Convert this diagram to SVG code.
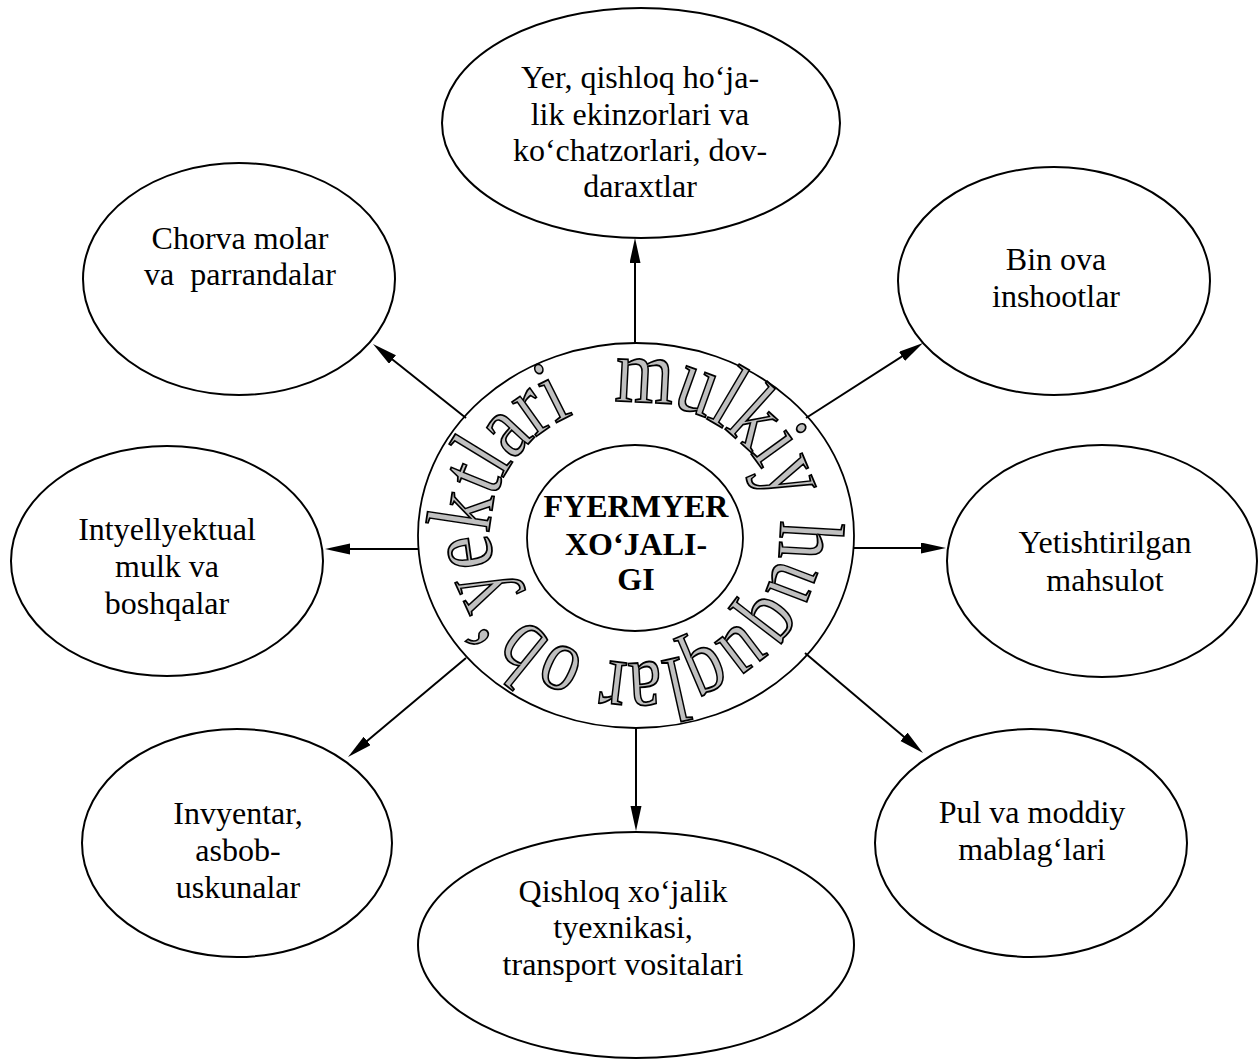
<svg xmlns="http://www.w3.org/2000/svg" width="1258" height="1059" viewBox="0 0 1258 1059">
<style>
.node ellipse{fill:#fff;stroke:#000;stroke-width:2}
.lbl{font-family:"Liberation Serif","Times New Roman",serif;font-size:32px;text-anchor:middle;fill:#000}
.bold{font-weight:bold}
.conn line{stroke:#000;stroke-width:2}
.rg{font-family:"Liberation Serif","Times New Roman",serif;font-size:75px;text-anchor:middle;fill:#c0c0c0;stroke:#000;stroke-width:1.5}
</style>
<defs>
<marker id="ah" markerUnits="userSpaceOnUse" markerWidth="26" markerHeight="12" refX="15" refY="5.5" orient="auto">
<path d="M0,0 L25,5.5 L0,11 z" fill="#000"/>
</marker>
</defs>
<rect width="1258" height="1059" fill="#fff"/>

<g id="center">
<ellipse cx="636" cy="535.5" rx="218" ry="192.5" fill="#fff" stroke="#000" stroke-width="1.8"/>
<g id="ring-text">
<text class="rg" transform="translate(643.3,402.2) rotate(2.95) scale(1,1.22)">m</text>
<text class="rg" transform="translate(688.9,411.3) rotate(19.81) scale(1,1.22)">u</text>
<text class="rg" transform="translate(714.5,423.4) rotate(30.57) scale(1,1.22)">l</text>
<text class="rg" transform="translate(737.4,440.1) rotate(41.94) scale(1,1.22)">k</text>
<text class="rg" transform="translate(756.4,461.2) rotate(54.06) scale(1,1.22)">i</text>
<text class="rg" transform="translate(770.4,485.9) rotate(66.96) scale(1,1.22)">y</text>
<text class="rg" transform="translate(779.8,539.2) rotate(93.29) scale(1,1.22)">h</text>
<text class="rg" transform="translate(772.2,574.8) rotate(110.83) scale(1,1.22)">u</text>
<text class="rg" transform="translate(754.4,606.5) rotate(127.42) scale(1,1.22)">q</text>
<text class="rg" transform="translate(728.6,632.2) rotate(142.74) scale(1,1.22)">u</text>
<text class="rg" transform="translate(697.1,650.4) rotate(156.90) scale(1,1.22)">q</text>
<text class="rg" transform="translate(670.1,659.1) rotate(167.35) scale(1,1.22)">l</text>
<text class="rg" transform="translate(644.0,662.8) rotate(176.79) scale(1,1.22)">a</text>
<text class="rg" transform="translate(615.7,661.8) rotate(186.88) scale(1,1.22)">r</text>
<text class="rg" transform="translate(569.1,648.8) rotate(204.66) scale(1,1.22)">o</text>
<text class="rg" transform="translate(538.1,629.6) rotate(218.94) scale(1,1.22)">b</text>
<text class="rg" transform="translate(516.8,608.1) rotate(231.72) scale(1,1.22)">‘</text>
<text class="rg" transform="translate(500.9,582.1) rotate(245.44) scale(1,1.22)">y</text>
<text class="rg" transform="translate(491.2,549.2) rotate(261.84) scale(1,1.22)">e</text>
<text class="rg" transform="translate(491.3,514.9) rotate(278.60) scale(1,1.22)">k</text>
<text class="rg" transform="translate(498.8,487.6) rotate(292.14) scale(1,1.22)">t</text>
<text class="rg" transform="translate(508.0,469.6) rotate(301.45) scale(1,1.22)">l</text>
<text class="rg" transform="translate(523.9,448.6) rotate(312.99) scale(1,1.22)">a</text>
<text class="rg" transform="translate(545.3,430.0) rotate(324.66) scale(1,1.22)">r</text>
<text class="rg" transform="translate(564.4,418.5) rotate(333.34) scale(1,1.22)">i</text>
</g>
<ellipse cx="635" cy="538" rx="108" ry="93" fill="#fff" stroke="#000" stroke-width="1.8"/>
<text class="lbl bold"><tspan x="636" y="517">FYERMYER</tspan><tspan x="636" y="555">XO‘JALI-</tspan><tspan x="636" y="590">GI</tspan></text>
</g>

<g id="connectors" class="conn">
<line x1="635" y1="343" x2="635" y2="248" marker-end="url(#ah)"/>
<line x1="466" y1="418" x2="380.8" y2="350.2" marker-end="url(#ah)"/>
<line x1="806" y1="418" x2="914.6" y2="348.4" marker-end="url(#ah)"/>
<line x1="418" y1="549" x2="335" y2="549" marker-end="url(#ah)"/>
<line x1="854" y1="548" x2="936" y2="548" marker-end="url(#ah)"/>
<line x1="466" y1="658" x2="355.7" y2="750.6" marker-end="url(#ah)"/>
<line x1="805" y1="653" x2="915.4" y2="746.5" marker-end="url(#ah)"/>
<line x1="636" y1="728" x2="636" y2="821" marker-end="url(#ah)"/>
</g>

<g id="n-yer" class="node">
<ellipse cx="641" cy="123" rx="199" ry="115"/>
<text class="lbl"><tspan x="640" y="88">Yer, qishloq ho‘ja-</tspan><tspan x="640" y="124.5">lik ekinzorlari va</tspan><tspan x="640" y="161">ko‘chatzorlari, dov-</tspan><tspan x="640" y="197">daraxtlar</tspan></text>
</g>

<g id="n-chorva" class="node">
<ellipse cx="239" cy="279" rx="156" ry="116"/>
<text class="lbl" xml:space="preserve" style="white-space:pre"><tspan x="240" y="249">Chorva molar</tspan><tspan x="240" y="285">va  parrandalar</tspan></text>
</g>

<g id="n-bino" class="node">
<ellipse cx="1054" cy="281" rx="156" ry="114"/>
<text class="lbl"><tspan x="1056" y="270">Bin ova</tspan><tspan x="1056" y="307">inshootlar</tspan></text>
</g>

<g id="n-intel" class="node">
<ellipse cx="167" cy="561" rx="156" ry="115"/>
<text class="lbl"><tspan x="167" y="540">Intyellyektual</tspan><tspan x="167" y="577">mulk va</tspan><tspan x="167" y="614">boshqalar</tspan></text>
</g>

<g id="n-mahsulot" class="node">
<ellipse cx="1102" cy="561" rx="155" ry="116"/>
<text class="lbl"><tspan x="1105" y="553">Yetishtirilgan</tspan><tspan x="1105" y="591">mahsulot</tspan></text>
</g>

<g id="n-inventar" class="node">
<ellipse cx="237" cy="843" rx="155" ry="114"/>
<text class="lbl"><tspan x="238" y="824">Invyentar,</tspan><tspan x="238" y="861">asbob-</tspan><tspan x="238" y="898">uskunalar</tspan></text>
</g>

<g id="n-pul" class="node">
<ellipse cx="1031" cy="843" rx="156" ry="114"/>
<text class="lbl"><tspan x="1032" y="823">Pul va moddiy</tspan><tspan x="1032" y="860">mablag‘lari</tspan></text>
</g>

<g id="n-texnika" class="node">
<ellipse cx="636" cy="945" rx="218" ry="113"/>
<text class="lbl"><tspan x="623" y="902">Qishloq xo‘jalik</tspan><tspan x="623" y="938">tyexnikasi,</tspan><tspan x="623" y="975">transport vositalari</tspan></text>
</g>
</svg>
